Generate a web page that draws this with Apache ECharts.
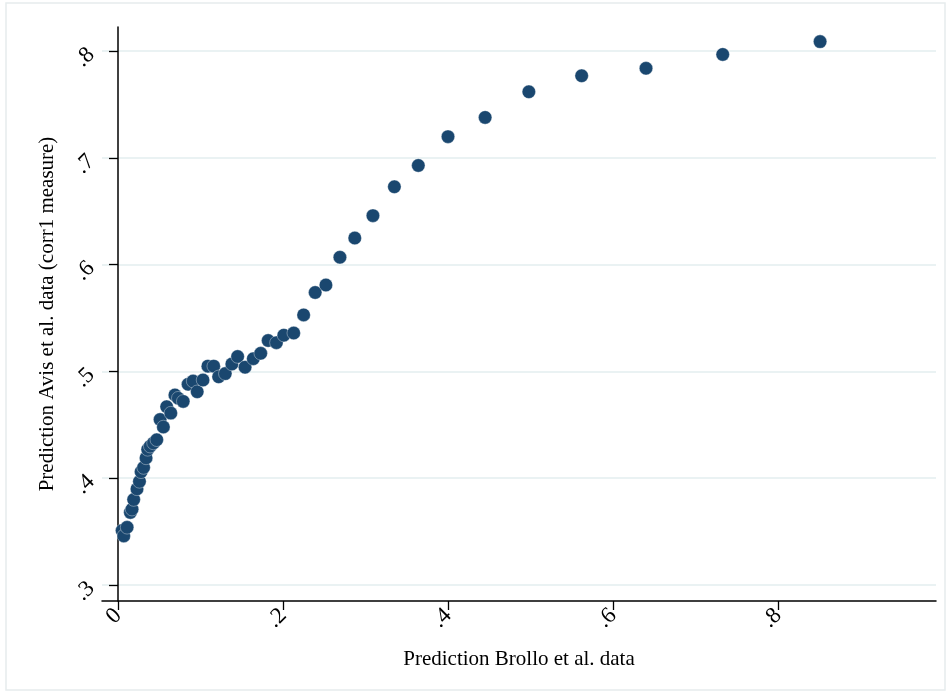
<!DOCTYPE html>
<html>
<head>
<meta charset="utf-8">
<script src="https://cdn.jsdelivr.net/npm/echarts@6/dist/echarts.min.js"></script>
<style>
  html, body { margin: 0; padding: 0; background: #fff; }
  #chart { width: 950px; height: 694px; }
</style>
</head>
<body>
<div id="chart"></div>
<script>
// binned predictions: x = Brollo et al., y = Avis et al. (corr1)
const brolloPred = [
  0.005, 0.007, 0.011, 0.015, 0.017, 0.019, 0.023, 0.026, 0.028, 0.031,
  0.034, 0.036, 0.039, 0.043, 0.047, 0.051, 0.055, 0.059, 0.064, 0.069,
  0.073, 0.079, 0.085, 0.091, 0.096, 0.103, 0.109, 0.116, 0.122, 0.130,
  0.138, 0.145, 0.154, 0.164, 0.173, 0.182, 0.192, 0.201, 0.213, 0.225,
  0.239, 0.252, 0.269, 0.287, 0.309, 0.335, 0.364, 0.400, 0.445, 0.498,
  0.562, 0.640, 0.733, 0.851
];
const avisPred = [
  0.351, 0.346, 0.354, 0.368, 0.371, 0.380, 0.390, 0.397, 0.406, 0.410,
  0.419, 0.427, 0.430, 0.433, 0.436, 0.455, 0.448, 0.467, 0.461, 0.478,
  0.475, 0.472, 0.488, 0.491, 0.481, 0.492, 0.505, 0.505, 0.495, 0.498,
  0.507, 0.514, 0.504, 0.512, 0.517, 0.529, 0.527, 0.534, 0.536, 0.553,
  0.574, 0.581, 0.607, 0.625, 0.646, 0.673, 0.693, 0.720, 0.738, 0.762,
  0.777, 0.784, 0.797, 0.809
];
const xTicks = [0, 0.2, 0.4, 0.6, 0.8];
const yTicks = [0.3, 0.4, 0.5, 0.6, 0.7, 0.8];

const fmt = (v) => (v === 0 ? "0" : String(v).replace(/^0/, ""));
const serif = "'Liberation Serif', 'DejaVu Serif', serif";

const chart = echarts.init(document.getElementById("chart"));

chart.setOption({
  animation: false,
  backgroundColor: "#ffffff",
  graphic: [
    {
      type: "rect",
      shape: { x: 6, y: 3, width: 939, height: 687 },
      style: { fill: "none", stroke: "#e6eced", lineWidth: 1.5 },
      silent: true,
    },
  ],
  grid: { left: 102, right: 14, top: 27, bottom: 93 },
  xAxis: {
    type: "value",
    min: -0.0194,
    max: 0.9915,
    name: "Prediction Brollo et al. data",
    nameLocation: "middle",
    nameGap: 48,
    nameTextStyle: { fontFamily: serif, fontSize: 21, color: "#000" },
    axisLine: { show: true, lineStyle: { color: "#000", width: 1.5 } },
    axisTick: {
      show: true,
      length: 9,
      customValues: xTicks,
      lineStyle: { color: "#000", width: 1.3 },
    },
    axisLabel: {
      customValues: xTicks,
      formatter: fmt,
      rotate: 45,
      margin: 11,
      fontFamily: serif,
      fontSize: 23,
      color: "#000",
    },
    splitLine: { show: false },
  },
  yAxis: {
    type: "value",
    min: 0.285,
    max: 0.8227,
    name: "Prediction Avis et al. data (corr1 measure)",
    nameLocation: "middle",
    nameGap: 44,
    nameTextStyle: { fontFamily: serif, fontSize: 21, color: "#000" },
    axisLine: { show: true, lineStyle: { color: "#000", width: 1.5 } },
    axisTick: {
      show: true,
      length: 9,
      customValues: yTicks,
      lineStyle: { color: "#000", width: 1.3 },
    },
    axisLabel: {
      customValues: yTicks,
      formatter: fmt,
      rotate: 45,
      margin: 11,
      fontFamily: serif,
      fontSize: 23,
      color: "#000",
    },
    splitLine: { show: true, lineStyle: { color: "#eaf2f3", width: 2 } },
  },
  series: [
    {
      type: "scatter",
      data: brolloPred.map((x, i) => [x, avisPred[i]]),
      symbol: "circle",
      symbolSize: 13.5,
      itemStyle: {
        color: "#1a476f",
        borderColor: "rgba(255,255,255,0.6)",
        borderWidth: 0.6,
        opacity: 1,
      },
    },
  ],
});
</script>
</body>
</html>
